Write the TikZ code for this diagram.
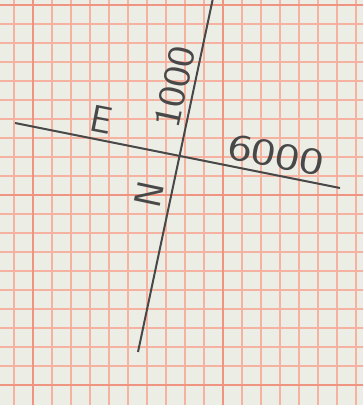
\documentclass[tikz,border=0pt]{standalone}
\usepackage{fontspec}
\usepackage{tikz}
\definecolor{paper}{RGB}{236,238,230}
\definecolor{gridred}{RGB}{245,178,160}
\definecolor{gridmajor}{RGB}{238,148,128}
\definecolor{pencil}{RGB}{72,72,72}
\tikzset{
  minorgrid/.style={gridred, line width=1.4pt},
  majorgrid/.style={gridmajor, line width=1.8pt},
  axisline/.style={pencil, line width=2pt},
  handlabel/.style={pencil, font=\sffamily\fontsize{38}{38}\selectfont, inner sep=0pt}
}

\begin{document}
\begin{tikzpicture}[x=1pt,y=1pt]
  \fill[paper] (0,0) rectangle (363,405);
  \useasboundingbox (0,0) rectangle (363,405);

  % graph paper
  \foreach \gx in {14,33,...,356} \draw[minorgrid] (\gx,0) -- (\gx,405);
  \foreach \gy in {20,39,...,400} \draw[minorgrid] (0,\gy) -- (363,\gy);
  \foreach \gx in {33,223} \draw[majorgrid] (\gx,0) -- (\gx,405);
  \foreach \gy in {20,210,400} \draw[majorgrid] (0,\gy) -- (363,\gy);

  % pencil lines
  \coordinate (ntop) at (213,407);
  \coordinate (nbot) at (138,53);
  \coordinate (ewest) at (15,282);
  \coordinate (eeast) at (340,217);
  \draw[axisline] (nbot) -- (ntop);
  \draw[axisline] (ewest) -- (eeast);

  % labels
  \node[handlabel, rotate=-11] (elabel) at (101,285) {E};
  \node[handlabel, rotate=78] (nlabel) at (149,211) {N};
  \node[handlabel, rotate=78, xscale=1.15] (northing) at (175,318) {1000};
  \node[handlabel, rotate=-11, xscale=1.35] (easting) at (276,250) {6000};
\end{tikzpicture}
\end{document}
